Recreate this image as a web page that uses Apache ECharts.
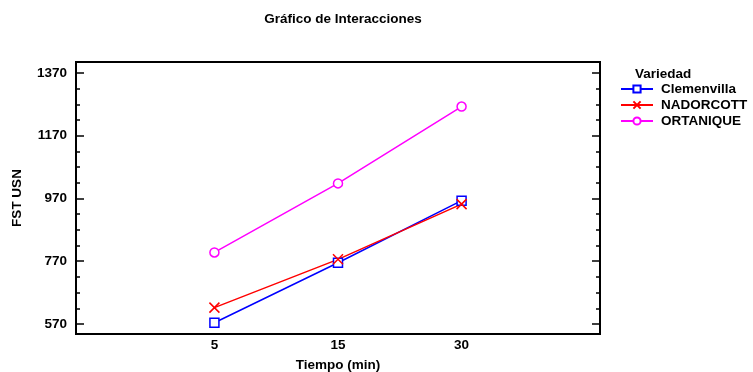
<!DOCTYPE html>
<html>
<head>
<meta charset="utf-8">
<script src="https://cdn.jsdelivr.net/npm/echarts@6/dist/echarts.min.js"></script>
<style>html,body{margin:0;padding:0;background:#fff}#c{width:753px;height:372px}</style>
</head>
<body>
<div id="c"></div>
<script>
var categories = ['5', '15', '30'];
var clemenvilla = [574, 765, 963];
var nadorcott = [622, 776, 952];
var ortanique = [798, 1018, 1263];
var yTicks = [570, 770, 970, 1170, 1370];
var yMinorTicks = [620, 670, 720, 820, 870, 920, 1020, 1070, 1120, 1220, 1270, 1320];
var seriesNames = ['Clemenvilla', 'NADORCOTT', 'ORTANIQUE'];

var font = 'Liberation Sans, Arial, sans-serif';
var fs = 13.5;
var yMin = 538, yMax = 1405;
function pts(arr) { return arr.map(function (v, i) { return [i, v]; }); }

function yAxis(pos, major, showLabel) {
  return {
    type: 'value', position: pos, min: yMin, max: yMax,
    axisLine: { show: false, onZero: false },
    splitLine: { show: false },
    axisTick: { show: true, inside: true, length: major ? 8 : 4, customValues: major ? yTicks : yMinorTicks,
      lineStyle: { color: '#000', width: 1.5 } },
    axisLabel: { show: showLabel, customValues: yTicks, formatter: function (v) { return String(v); },
      color: '#000', fontFamily: font, fontWeight: 'bold', fontSize: fs, margin: 9 },
    name: showLabel ? 'FST USN' : '', nameLocation: 'middle', nameGap: 52,
    nameTextStyle: { color: '#000', fontFamily: font, fontWeight: 'bold', fontSize: fs }
  };
}

var chart = echarts.init(document.getElementById('c'), null, { renderer: 'canvas' });
chart.setOption({
  animation: false,
  backgroundColor: '#fff',
  title: { text: 'Gráfico de Interacciones', left: 338, textAlign: 'center', top: 7,
    textStyle: { color: '#000', fontFamily: font, fontWeight: 'bold', fontSize: fs } },
  grid: { left: 76, right: 153, top: 62, bottom: 38, show: true, borderColor: '#000', borderWidth: 2,
    backgroundColor: 'transparent', outerBoundsMode: 'none', containLabel: false },
  xAxis: {
    type: 'value', min: -1.12, max: 3.12,
    axisLine: { show: false, onZero: false }, splitLine: { show: false },
    axisTick: { show: false },
    axisLabel: { customValues: [0, 1, 2], formatter: function (v) { return categories[Math.round(v)]; },
      color: '#000', fontFamily: font, fontWeight: 'bold', fontSize: fs, margin: 4 },
    name: 'Tiempo (min)', nameLocation: 'middle', nameGap: 24,
    nameTextStyle: { color: '#000', fontFamily: font, fontWeight: 'bold', fontSize: fs }
  },
  yAxis: [yAxis('left', true, true), yAxis('left', false, false), yAxis('right', true, false), yAxis('right', false, false)],
  legend: {
    orient: 'vertical', left: 620, top: 82, padding: 0, itemWidth: 32, itemHeight: 9, itemGap: 2,
    data: seriesNames,
    textStyle: { color: '#000', fontFamily: font, fontWeight: 'bold', fontSize: fs, lineHeight: 14, padding: [0, 0, 0, 3] }
  },
  graphic: [{ type: 'text', left: 635, top: 67, style: { text: 'Variedad', fill: '#000', font: 'bold 13.5px ' + font } }],
  series: [
    { name: seriesNames[0], type: 'line', data: pts(clemenvilla), symbol: 'rect', symbolSize: 9,
      lineStyle: { color: '#0000ff', width: 1.5 }, itemStyle: { color: '#fff', borderColor: '#0000ff', borderWidth: 1.5 } },
    { name: seriesNames[1], type: 'line', data: pts(nadorcott), symbol: 'path://M0,0L10,10M10,0L0,10', symbolSize: 10,
      lineStyle: { color: '#ff0000', width: 1.5 }, itemStyle: { color: 'transparent', borderColor: '#ff0000', borderWidth: 1.5 } },
    { name: seriesNames[2], type: 'line', data: pts(ortanique), symbol: 'circle', symbolSize: 9,
      lineStyle: { color: '#ff00ff', width: 1.5 }, itemStyle: { color: '#fff', borderColor: '#ff00ff', borderWidth: 1.5 } }
  ]
});
</script>
</body>
</html>
